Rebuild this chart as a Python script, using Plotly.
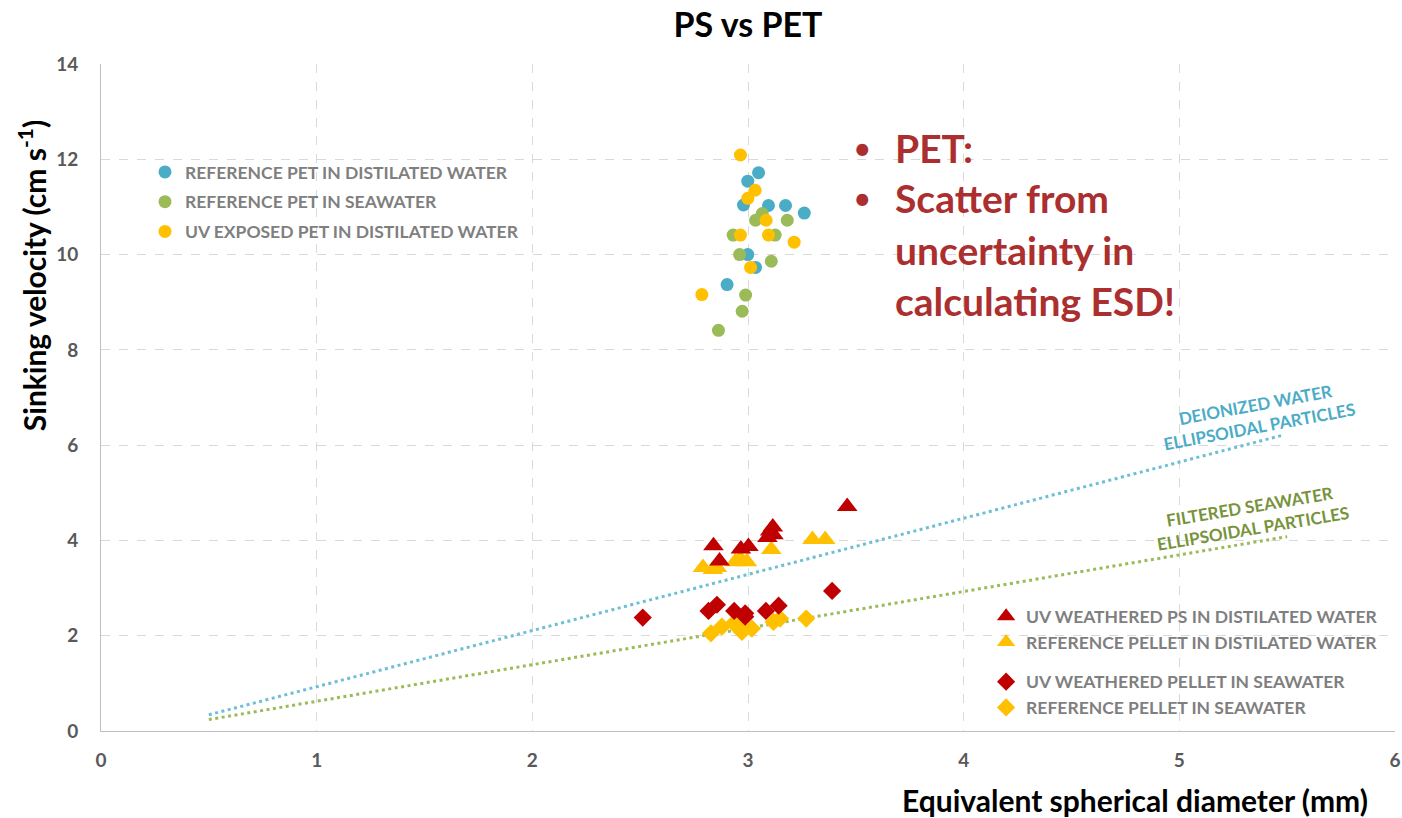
import plotly.graph_objects as go

# ---- PET data (ESD mm, sinking velocity cm/s) ----
pet_ref_dw_x = [3.049, 2.999, 2.979, 3.095, 3.174, 3.261, 2.999, 3.035, 2.903]
pet_ref_dw_y = [11.72, 11.54, 11.04, 11.03, 11.03, 10.87, 10.00, 9.73, 9.37]

pet_ref_sw_x = [3.066, 3.035, 3.182, 2.931, 3.126, 2.961, 3.108, 2.989, 2.973, 2.863]
pet_ref_sw_y = [10.86, 10.72, 10.72, 10.41, 10.41, 10.00, 9.86, 9.15, 8.81, 8.41]

pet_uv_dw_x = [2.965, 3.033, 2.999, 3.084, 2.965, 3.095, 3.214, 3.012, 2.786]
pet_uv_dw_y = [12.09, 11.35, 11.18, 10.72, 10.41, 10.41, 10.26, 9.73, 9.16]

# ---- PS data ----
ps_uv_dw_x = [3.460, 2.840, 2.868, 2.967, 3.002, 3.103, 3.115, 3.090, 3.118]
ps_uv_dw_y = [4.71, 3.89, 3.57, 3.82, 3.87, 4.20, 4.28, 4.06, 4.12]

ps_ref_dw_x = [2.791, 2.837, 2.856, 2.941, 2.995, 2.964, 3.108, 3.299, 3.358]
ps_ref_dw_y = [3.43, 3.39, 3.43, 3.55, 3.55, 3.62, 3.81, 4.02, 4.02]

ps_uv_sw_x = [2.512, 2.817, 2.856, 2.936, 2.987, 2.987, 3.083, 3.142, 3.390]
ps_uv_sw_y = [2.38, 2.52, 2.65, 2.52, 2.47, 2.40, 2.52, 2.63, 2.94]

ps_ref_sw_x = [2.828, 2.879, 2.933, 2.964, 2.972, 3.018, 3.118, 3.149, 3.270]
ps_ref_sw_y = [2.05, 2.19, 2.26, 2.19, 2.08, 2.15, 2.29, 2.36, 2.36]

# ---- model curves (ellipsoidal particles) ----
model_dw_x = [0.50, 5.48]
model_dw_y = [0.34, 6.21]
model_sw_x = [0.50, 5.50]
model_sw_y = [0.24, 4.08]

# ---- tick labels ----
x_ticks = [0, 1, 2, 3, 4, 5, 6]
y_ticks = [0, 2, 4, 6, 8, 10, 12, 14]

BLUE = "#4BACC6"
GREEN = "#9BBB59"
ORANGE = "#FFC000"
RED = "#C00000"
FONT = "Lato"
GREY = "#7F7F7F"

fig = go.Figure()

fig.add_trace(go.Scatter(x=model_dw_x, y=model_dw_y, mode="lines",
                         line=dict(color="#6DBFD4", width=3, dash="3px,3.5px"),
                         showlegend=False, hoverinfo="skip"))
fig.add_trace(go.Scatter(x=model_sw_x, y=model_sw_y, mode="lines",
                         line=dict(color=GREEN, width=3, dash="3px,3.5px"),
                         showlegend=False, hoverinfo="skip"))

fig.add_trace(go.Scatter(x=pet_ref_dw_x, y=pet_ref_dw_y, mode="markers",
                         name="REFERENCE PET IN DISTILATED WATER", legendgroup="p1",
                         marker=dict(color=BLUE, size=13, symbol="circle"), legend="legend"))
fig.add_trace(go.Scatter(x=pet_ref_sw_x, y=pet_ref_sw_y, mode="markers",
                         name="REFERENCE PET IN SEAWATER", legendgroup="p2",
                         marker=dict(color=GREEN, size=13, symbol="circle"), legend="legend"))
fig.add_trace(go.Scatter(x=pet_uv_dw_x, y=pet_uv_dw_y, mode="markers",
                         name="UV EXPOSED PET IN DISTILATED WATER", legendgroup="p3",
                         marker=dict(color=ORANGE, size=13, symbol="circle"), legend="legend"))

fig.add_trace(go.Scatter(x=ps_ref_dw_x, y=ps_ref_dw_y, mode="markers",
                         name="REFERENCE PELLET IN DISTILATED WATER", legendgroup="tri",
                         legendrank=2,
                         marker=dict(color=ORANGE, size=18, symbol="triangle-up"), legend="legend2"))
fig.add_trace(go.Scatter(x=ps_uv_dw_x, y=ps_uv_dw_y, mode="markers",
                         name="UV WEATHERED PS IN DISTILATED WATER", legendgroup="tri",
                         legendrank=1,
                         marker=dict(color=RED, size=18, symbol="triangle-up"), legend="legend2"))
fig.add_trace(go.Scatter(x=ps_ref_sw_x, y=ps_ref_sw_y, mode="markers",
                         name="REFERENCE PELLET IN SEAWATER", legendgroup="dia",
                         legendrank=4,
                         marker=dict(color=ORANGE, size=14, symbol="diamond"), legend="legend2"))
fig.add_trace(go.Scatter(x=ps_uv_sw_x, y=ps_uv_sw_y, mode="markers",
                         name="UV WEATHERED PELLET IN SEAWATER", legendgroup="dia",
                         legendrank=3,
                         marker=dict(color=RED, size=14, symbol="diamond"), legend="legend2"))

legend_font = dict(family=FONT, size=17.5, color=GREY, weight="bold")

annotations = [
    dict(text="DEIONIZED WATER<br>ELLIPSOIDAL PARTICLES", x=5.36, y=6.63, xref="x", yref="y",
         showarrow=False, textangle=-10.5,
         font=dict(family=FONT, size=17, color=BLUE, weight="bold")),
    dict(text="FILTERED SEAWATER<br>ELLIPSOIDAL PARTICLES", x=5.33, y=4.49, xref="x", yref="y",
         showarrow=False, textangle=-9.5,
         font=dict(family=FONT, size=17, color="#77933C", weight="bold")),
    dict(text="Equivalent spherical diameter (mm)", x=0.9807, y=-0.1035, xref="paper", yref="paper",
         xanchor="right", yanchor="middle", showarrow=False,
         font=dict(family=FONT, size=30, color="#000000", weight="bold")),
    dict(text="Sinking velocity (cm s<sup>-1</sup>)", x=-0.0533, y=0.682, xref="paper", yref="paper",
         xanchor="center", yanchor="middle", showarrow=False, textangle=-90,
         font=dict(family=FONT, size=30, color="#000000", weight="bold")),
]

red_txt = "#AB2F2F"
lines = ["PET:", "Scatter from", "uncertainty in", "calculating ESD!"]
line_y = [12.24, 11.19, 10.09, 9.02]
for i, (t, yy) in enumerate(zip(lines, line_y)):
    annotations.append(dict(text=t, x=3.673, y=yy, xref="x", yref="y", xanchor="left",
                            yanchor="middle", showarrow=False,
                            font=dict(family=FONT, size=39, color=red_txt, weight="bold")))
    if i < 2:
        annotations.append(dict(text="•", x=3.53, y=yy, xref="x", yref="y", xanchor="center",
                                yanchor="middle", showarrow=False,
                                font=dict(family=FONT, size=32, color=red_txt)))

fig.update_layout(
    width=1402, height=818,
    margin=dict(l=101, r=7, t=64, b=87),
    paper_bgcolor="white", plot_bgcolor="white",
    title=dict(text="PS vs PET", x=0.5, xref="paper", y=1 - 25 / 818, yref="container",
               xanchor="center", yanchor="middle",
               font=dict(family=FONT, size=34, color="#000000", weight="bold")),
    xaxis=dict(range=[0, 6], tickvals=x_ticks, showgrid=True, gridcolor="#D9D9D9",
               griddash="dash", gridwidth=1, zeroline=False, showline=True, automargin=False,
               linecolor="#BFBFBF", linewidth=1, ticks="", ticklabelstandoff=12,
               tickfont=dict(family=FONT, size=19, color="#595959", weight="bold")),
    yaxis=dict(range=[0, 14], tickvals=y_ticks, showgrid=True, gridcolor="#D9D9D9",
               griddash="dash", gridwidth=1, zeroline=False, showline=True, automargin=False,
               linecolor="#BFBFBF", linewidth=1, ticks="", ticklabelstandoff=18,
               tickfont=dict(family=FONT, size=19, color="#595959", weight="bold")),
    legend=dict(x=0.034, y=0.865, xanchor="left", yanchor="top", bgcolor="rgba(0,0,0,0)",
                font=legend_font, traceorder="grouped", tracegroupgap=4, itemwidth=30),
    legend2=dict(x=0.684, y=0.199, xanchor="left", yanchor="top", bgcolor="rgba(0,0,0,0)",
                 font=legend_font, traceorder="grouped", tracegroupgap=14, itemwidth=30),
    annotations=annotations,
    showlegend=True,
)

fig.write_html("out.html")
